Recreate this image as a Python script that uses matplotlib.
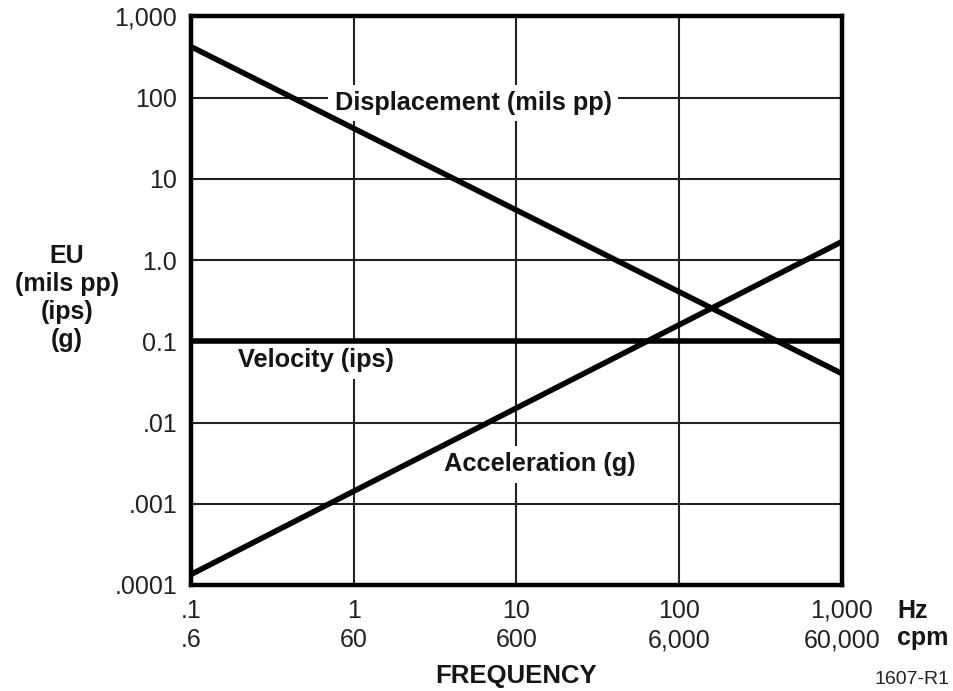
import matplotlib
matplotlib.use("Agg")
import matplotlib.pyplot as plt

plt.rcParams['font.family'] = ['Liberation Sans', 'DejaVu Sans']

# Data
freq_hz = [0.1, 1000]
displacement = [424, 0.040]      # mils pp
velocity = [0.1, 0.1]            # ips
acceleration = [0.000135, 1.69]  # g

x_ticks = [0.1, 1, 10, 100, 1000]
x_labels_hz = ['.1', '1', '10', '100', '1,000']
x_labels_cpm = ['.6', '60', '600', '6,000', '60,000']
y_ticks = [1e-4, 1e-3, 1e-2, 1e-1, 1, 10, 100, 1000]
y_labels = ['.0001', '.001', '.01', '0.1', '1.0', '10', '100', '1,000']

W, H = 954, 691
fig = plt.figure(figsize=(W / 100, H / 100), dpi=100)
ax = fig.add_axes([191 / W, 1 - 585 / H, (842 - 191) / W, (585 - 16.4) / H])

ax.set_xscale('log')
ax.set_yscale('log')
ax.set_xlim(0.1, 1000)
ax.set_ylim(1e-4, 1000)

lw = 4.0
ax.plot(freq_hz, displacement, color='black', lw=lw, solid_capstyle='butt', zorder=4)
ax.plot(freq_hz, velocity, color='black', lw=lw, solid_capstyle='butt', zorder=4)
ax.plot(freq_hz, acceleration, color='black', lw=lw, solid_capstyle='butt', zorder=4)

ax.set_xticks(x_ticks)
ax.set_xticklabels([f"{a}\n{b}" for a, b in zip(x_labels_hz, x_labels_cpm)],
                   linespacing=1.28)
ax.set_yticks(y_ticks)
ax.set_yticklabels(y_labels)
ax.minorticks_off()
ax.tick_params(axis='both', length=0, labelsize=18, colors='#222222')
ax.tick_params(axis='y', pad=10)
ax.tick_params(axis='x', pad=10)

ax.grid(True, which='major', color='#222222', lw=1.5)
for s in ax.spines.values():
    s.set_linewidth(3.2)
    s.set_color('black')
    s.set_zorder(5)

box = dict(facecolor='white', edgecolor='none', boxstyle='square,pad=0.25')
tkw = dict(fontsize=18.3, fontweight='bold', color='#151515', ha='center',
           va='baseline', bbox=box, zorder=3)
ax.text(5.42, 70.3, 'Displacement (mils pp)', **tkw)
ax.text(0.585, 0.0478, 'Velocity (ips)', **tkw)
ax.text(13.9, 0.00251, 'Acceleration (g)', **tkw)

fig.text(67 / W, 1 - 298 / H, 'EU\n(mils pp)\n(ips)\n(g)', fontsize=18,
         fontweight='bold', color='#151515', ha='center', va='center',
         linespacing=1.2)
fig.text(516 / W, 1 - 683 / H, 'FREQUENCY', fontsize=18.5, fontweight='bold',
         color='#151515', ha='center', va='baseline')
fig.text(897 / W, 1 - 618 / H, 'Hz', fontsize=18, fontweight='bold',
         color='#151515', ha='left', va='baseline')
fig.text(897 / W, 1 - 645 / H, 'cpm', fontsize=18, fontweight='bold',
         color='#151515', ha='left', va='baseline')
fig.text(950 / W, 1 - 684 / H, '1607-R1', fontsize=14, color='#222222',
         ha='right', va='baseline')

fig.savefig('out.png', dpi=100)
